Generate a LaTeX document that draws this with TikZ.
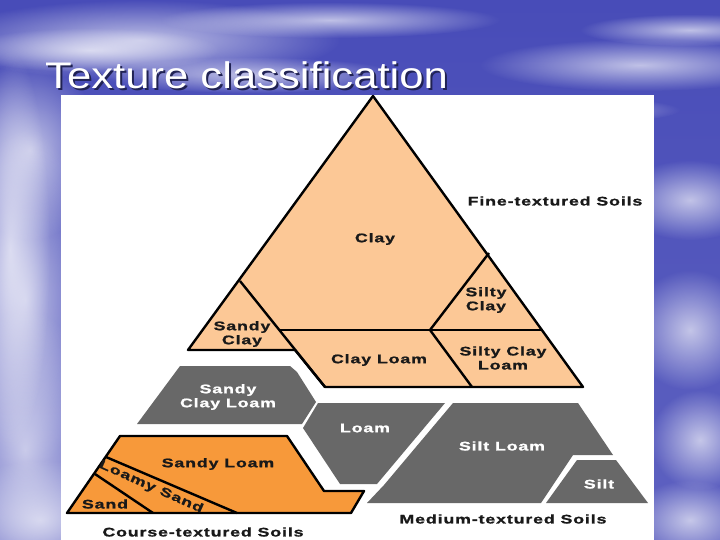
\documentclass[tikz,border=0pt]{standalone}
\usepackage{fontspec}
\setmainfont{Liberation Sans}
\newfontfamily\labfont[FakeStretch=1.42,LetterSpace=7,FakeBold=1.2]{Liberation Sans}
\newfontfamily\titlefont[FakeStretch=1.18]{Liberation Sans}
\usetikzlibrary{calc,fadings}
\definecolor{peach}{RGB}{252,200,150}
\definecolor{orng}{RGB}{247,153,58}
\definecolor{gry}{RGB}{104,104,104}
\definecolor{sky}{RGB}{72,76,184}
\definecolor{ink}{RGB}{25,25,25}
\tikzfading[name=softcloud, inner color=transparent!35, outer color=transparent!100]
\tikzset{
  lab/.style={font=\labfont\bfseries\fontsize{12.5}{14}\selectfont, text=ink, align=center, inner sep=0pt},
  wlab/.style={lab, text=white},
  peachreg/.style={fill=peach, draw=black, line width=2.4pt, line join=round},
  orngreg/.style={fill=orng, draw=black, line width=2.4pt, line join=round},
  grayreg/.style={fill=gry},
  divline/.style={draw=black, line width=2.4pt},
  cloud/.style={fill=white, path fading=softcloud}
}
\begin{document}
\begin{tikzpicture}[x=1pt,y=-1pt]
\useasboundingbox (0,0) rectangle (720,540);
% background sky
\shade[top color=sky, bottom color=sky!88!white] (0,0) rectangle (720,540);
\foreach \cx/\cy/\rx/\ry in {140/40/200/40, 90/50/130/22, 330/20/170/18, 250/75/150/18, 640/65/160/26, 690/30/110/16, 560/110/120/14,
  30/150/70/90, 25/300/70/170, 25/450/80/140, 40/520/90/60, 10/250/40/200,
  690/200/70/40, 690/330/60/60, 700/440/50/50, 690/520/60/40}{
  \fill[cloud] (\cx,\cy) ellipse [x radius=\rx, y radius=\ry];
}
% title
\node[anchor=base west, inner sep=0pt, font=\titlefont\fontsize{37}{40}\selectfont, text=black!55!sky] (titlesh) at (47,91) {Texture classification};
\node[anchor=base west, inner sep=0pt, font=\titlefont\fontsize{37}{40}\selectfont, text=white] (title) at (45,89) {Texture classification};
% panel
\fill[white] (61,95) rectangle (654,540);
% fine-textured peach region
\path[peachreg] (373,96) -- (188,350) -- (295,350) -- (325,387) -- (583,387) -- cycle;
\draw[divline] (240,281) -- (325,387);
\draw[divline] (279,330) -- (542,330);
\draw[divline] (489,253) -- (430,330);
\draw[divline] (430,330) -- (472,387);
% medium-textured grey regions
\fill[grayreg] (180,366) -- (290,366) -- (297,372) -- (316,402) -- (302,424) -- (137,424) -- cycle;
\fill[grayreg] (318,403) -- (445,403) -- (377,484) -- (340,484) -- (303,428) -- cycle;
\fill[grayreg] (453,403) -- (578,403) -- (613,455) -- (573,455) -- (541,503) -- (367,503) -- (384,485) -- cycle;
\fill[grayreg] (577,460) -- (616,460) -- (648,503) -- (546,503) -- cycle;
% coarse-textured orange region
\path[orngreg] (120,436) -- (287,436) -- (324,491) -- (364,491) -- (351,513) -- (67,513) -- cycle;
\draw[divline] (106,457) -- (237,513);
\draw[divline] (95,474) -- (153,513);
% labels
\node[lab] (clay) at (375,239) {Clay};
\node[lab] (fine) at (555,201) {Fine-textured Soils};
\node[lab] (siltyclay) at (486,300) {Silty\\Clay};
\node[lab] (sandyclay) at (242,334) {Sandy\\Clay};
\node[lab] (clayloam) at (379,360) {Clay Loam};
\node[lab] (siltyclayloam) at (503,358) {Silty Clay\\Loam};
\node[wlab] (scl) at (228,397) {Sandy\\Clay Loam};
\node[wlab] (loam) at (365,428) {Loam};
\node[wlab] (siltloam) at (502,446) {Silt Loam};
\node[wlab] (silt) at (599,484) {Silt};
\node[lab] (sandyloam) at (218,464) {Sandy Loam};
\node[lab, rotate=-24] (loamysand) at (151,487) {Loamy Sand};
\node[lab] (sand) at (105,504) {Sand};
\node[lab] (coarse) at (203,532) {Course-textured Soils};
\node[lab] (medium) at (503,519) {Medium-textured Soils};
\end{tikzpicture}
\end{document}
